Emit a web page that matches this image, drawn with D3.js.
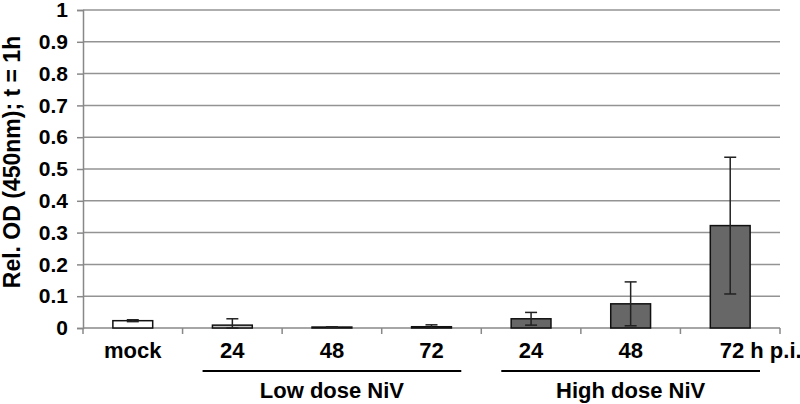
<!DOCTYPE html>
<html><head><meta charset="utf-8">
<script src="https://cdn.jsdelivr.net/npm/d3@7"></script>
<style>body{margin:0;background:#fff}svg{display:block}text{font-family:"Liberation Sans",Arial,sans-serif;font-weight:bold;fill:#000}</style>
</head><body><svg id="c" width="800" height="404"></svg>
<script>
const categories = ["mock","L24","L48","L72","H24","H48","H72"];
const catLabels = ["mock","24","48","72","24","48","72"];
const groups = ["mock","low","low","low","high","high","high"];
const values = [0.023, 0.009, 0.003, 0.004, 0.029, 0.076, 0.322];
const errors = [0.003, 0.020, 0.001, 0.006, 0.020, 0.069, 0.215];
const yTicks = [0,0.1,0.2,0.3,0.4,0.5,0.6,0.7,0.8,0.9,1];
const groupLabels = [{name:"Low dose NiV", from:"L24", to:"L72"},{name:"High dose NiV", from:"H24", to:"H72"}];
const fills = {mock:"#ffffff", low:"#c4c4c4", high:"#676767"};

const svg = d3.select("#c");
const m = {l:83, r:780, t:10, b:328};
const x = d3.scaleBand().domain(categories).range([m.l, m.r]).paddingInner(0.6).paddingOuter(0.3);
const xb = d3.scaleBand().domain(categories).range([m.l, m.r]);
const y = d3.scaleLinear().domain([0,1]).range([m.b, m.t]);

// gridlines
svg.append("g").selectAll("line").data(yTicks.slice(1)).join("line")
  .attr("x1", m.l).attr("x2", m.r).attr("y1", d=>y(d)).attr("y2", d=>y(d))
  .attr("stroke", "#939393").attr("stroke-width", 1.5);

// y axis
const ya = svg.append("g").attr("transform", `translate(${m.l},0)`)
  .call(d3.axisLeft(y).tickValues(yTicks).tickFormat(d3.format("")).tickSize(6).tickPadding(9));
ya.select(".domain").attr("stroke","#888").attr("stroke-width",1.5);
ya.selectAll(".tick line").attr("stroke","#888").attr("stroke-width",1.5);
ya.selectAll(".tick text").attr("font-size", 21).attr("font-family", "Liberation Sans, Arial, sans-serif").attr("font-weight","bold").attr("fill","#000");

// x axis line and ticks at band boundaries
svg.append("line").attr("x1", m.l).attr("x2", m.r).attr("y1", y(0)).attr("y2", y(0))
  .attr("stroke","#888").attr("stroke-width",1.5);
const bounds = categories.map(c=>xb(c)).concat([xb(categories[categories.length-1])+xb.bandwidth()]);
svg.append("g").selectAll("line").data(bounds).join("line")
  .attr("x1", d=>d).attr("x2", d=>d).attr("y1", y(0)).attr("y2", y(0)+6)
  .attr("stroke","#888").attr("stroke-width",1.5);

// bars
svg.append("g").selectAll("rect").data(categories).join("rect")
  .attr("x", c=>x(c)).attr("width", x.bandwidth())
  .attr("y", (c,i)=>y(values[i])).attr("height", (c,i)=>y(0)-y(values[i]))
  .attr("fill", (c,i)=>fills[groups[i]]).attr("stroke","#111").attr("stroke-width",1.5);

// error bars
const eb = svg.append("g").attr("stroke","#222").attr("stroke-width",1.5);
categories.forEach((c,i)=>{
  const cx = x(c)+x.bandwidth()/2;
  const lo = Math.max(0, values[i]-errors[i]), hi = values[i]+errors[i];
  eb.append("line").attr("x1",cx).attr("x2",cx).attr("y1",y(lo)).attr("y2",y(hi));
  [lo,hi].forEach(v=>eb.append("line").attr("x1",cx-6).attr("x2",cx+6).attr("y1",y(v)).attr("y2",y(v)));
});

// x labels
const last = categories[categories.length-1];
svg.append("g").selectAll("text").data(categories).join("text")
  .attr("x", c=> c===last ? xb(c)+xb.bandwidth()/2+14 : xb(c)+xb.bandwidth()/2).attr("y", 358)
  .attr("text-anchor", c=> c===last ? "end" : "middle").attr("font-size",22)
  .text((c,i)=>catLabels[i]);
svg.append("text").attr("x", xb(last)+xb.bandwidth()/2+14).attr("y",358)
  .attr("text-anchor","start").attr("font-size",22).text("\u00a0h p.i.");

// group brackets
groupLabels.forEach(g=>{
  const x1 = xb(g.from)+20, x2 = xb(g.to)+xb.bandwidth()-20;
  svg.append("line").attr("x1",x1).attr("x2",x2).attr("y1",371).attr("y2",371).attr("stroke","#000").attr("stroke-width",2);
  svg.append("text").attr("x",(x1+x2)/2).attr("y",398).attr("text-anchor","middle").attr("font-size",22).text(g.name);
});

// y title
svg.append("text").attr("transform",`translate(20,162) rotate(-90)`)
  .attr("text-anchor","middle").attr("font-size",23).text("Rel. OD (450nm); t = 1h");
</script></body></html>
